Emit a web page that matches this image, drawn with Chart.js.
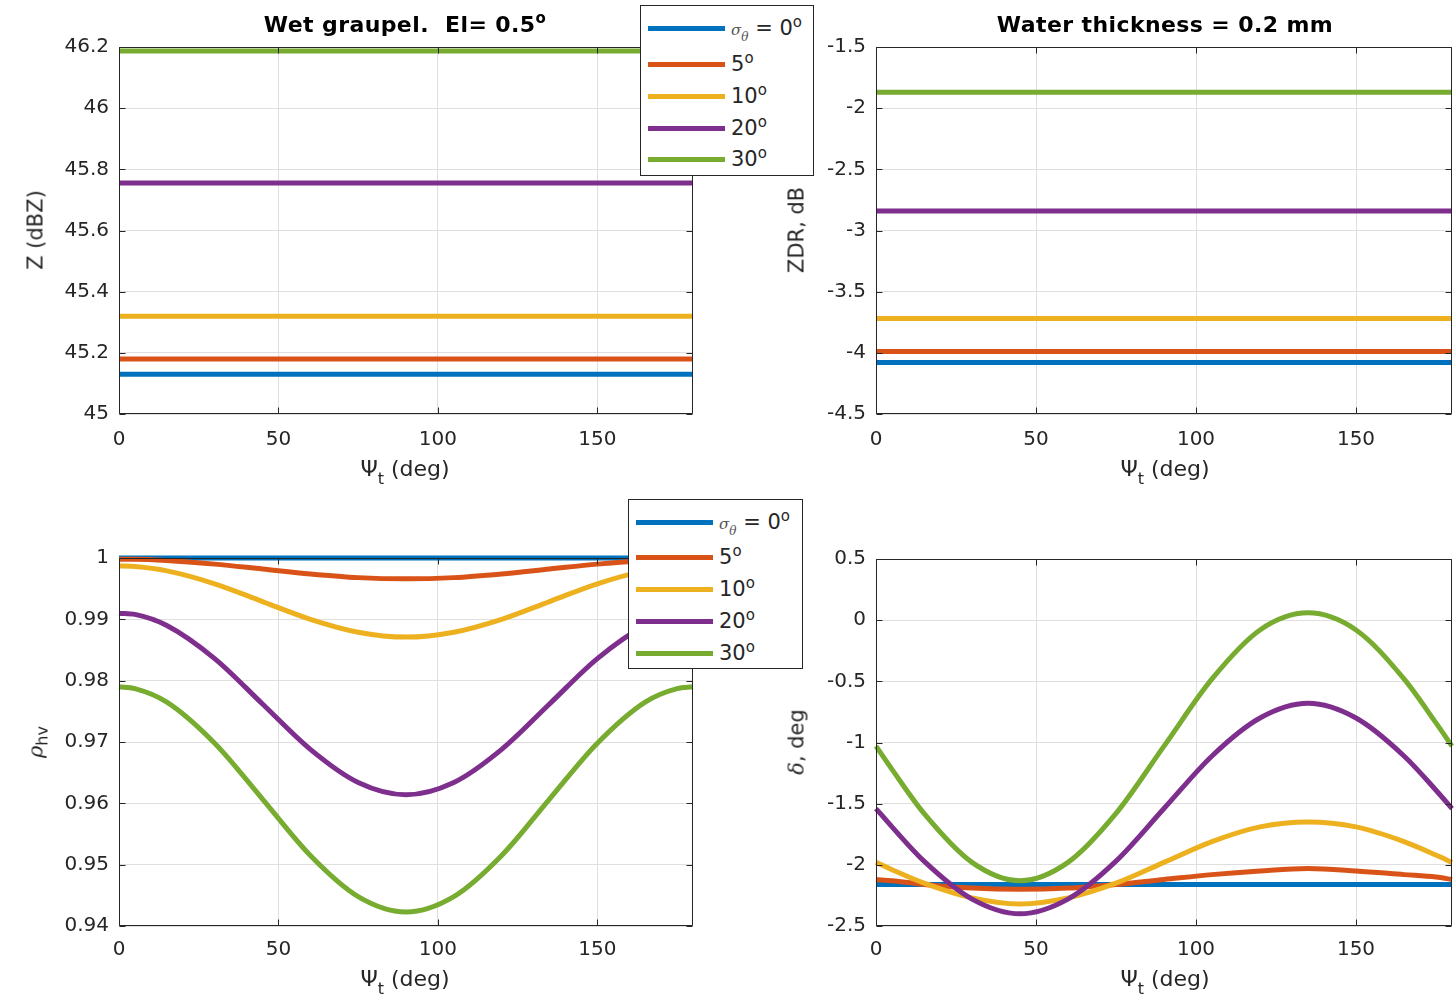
<!DOCTYPE html>
<html><head><meta charset="utf-8">
<script src="https://cdn.jsdelivr.net/npm/chart.js@4"></script>
<style>
body{margin:0;background:#fff;width:1454px;height:1000px;overflow:hidden;position:relative;font-family:'DejaVu Sans',sans-serif;color:#262626;}
canvas{position:absolute;}
.title{position:absolute;font-weight:bold;font-size:22px;color:#000;white-space:nowrap;transform:translateX(-50%);line-height:1;letter-spacing:0.4px;}
.title sup{font-size:15px;vertical-align:9px;line-height:0}
.xt{position:absolute;font-size:22px;white-space:nowrap;transform:translate(-50%,-50%);line-height:1;}
.xt sub{font-size:16px;vertical-align:-8px;line-height:0}
.yt{position:absolute;font-size:21px;white-space:nowrap;transform:translate(-50%,-50%) rotate(-90deg);line-height:1;}
.yt sub{font-size:16px;vertical-align:-5px;line-height:0}
.legend{position:absolute;background:#fff;border:1px solid #262626;box-sizing:border-box;}
.item{position:absolute;left:7px;height:0;}
.swatch{position:absolute;left:0;top:-2.5px;width:77px;height:5px;}
.lab{position:absolute;left:83px;top:0;font-size:21px;white-space:nowrap;transform:translateY(-50%);line-height:1;}
.lab sup{font-size:15px;vertical-align:8px;line-height:0}
.lab .sg{font-family:'DejaVu Serif',serif;font-style:italic;font-size:15px;color:#555;}
.lab sub{font-size:12px;vertical-align:-6px;line-height:0}
</style>
</head><body>
<script>
// ---------------- DATA ----------------
const psi = [0, 5, 15, 30, 45, 60, 75, 90, 105, 120, 135, 150, 165, 175, 180];
const psiFlat = [0, 180];
const xTicks = [0, 50, 100, 150];
const sigmaLabels = ['0', '5', '10', '20', '30'];

// Z (dBZ), constant in psi
const zS0 = [45.13, 45.13];
const zS5 = [45.18, 45.18];
const zS10 = [45.32, 45.32];
const zS20 = [45.755, 45.755];
const zS30 = [46.187, 46.187];
const zTicks = [45, 45.2, 45.4, 45.6, 45.8, 46, 46.2];

// ZDR (dB), constant in psi
const zdrS0 = [-4.08, -4.08];
const zdrS5 = [-3.99, -3.99];
const zdrS10 = [-3.72, -3.72];
const zdrS20 = [-2.84, -2.84];
const zdrS30 = [-1.87, -1.87];
const zdrTicks = [-4.5, -4, -3.5, -3, -2.5, -2, -1.5];

// rho_hv
const rhoS0 = [1, 1, 1, 1, 1, 1, 1, 1, 1, 1, 1, 1, 1, 1, 1];
const rhoS5 = [0.9998, 0.9998, 0.9996, 0.9990, 0.9982, 0.9974, 0.9968, 0.9966, 0.9968, 0.9974, 0.9982, 0.9990, 0.9996, 0.9998, 0.9998];
const rhoS10 = [0.9987, 0.9986, 0.9979, 0.9958, 0.9929, 0.9900, 0.9879, 0.9871, 0.9879, 0.9900, 0.9929, 0.9958, 0.9979, 0.9986, 0.9987];
const rhoS20 = [0.9910, 0.9908, 0.9890, 0.9836, 0.9762, 0.9688, 0.9634, 0.9614, 0.9634, 0.9688, 0.9762, 0.9836, 0.9890, 0.9908, 0.9910];
const rhoS30 = [0.9790, 0.9787, 0.9765, 0.9698, 0.9607, 0.9515, 0.9448, 0.9423, 0.9448, 0.9515, 0.9607, 0.9698, 0.9765, 0.9787, 0.9790];
const rhoTicks = [0.94, 0.95, 0.96, 0.97, 0.98, 0.99, 1];

// delta (deg)
const dS0 = [-2.16, -2.16, -2.16, -2.16, -2.16, -2.16, -2.16, -2.16, -2.16, -2.16, -2.16, -2.16, -2.16, -2.16, -2.16];
const dS5 = [-2.12, -2.13, -2.16, -2.19, -2.20, -2.19, -2.16, -2.12, -2.08, -2.05, -2.03, -2.05, -2.08, -2.10, -2.12];
const dS10 = [-1.98, -2.04, -2.15, -2.27, -2.32, -2.27, -2.15, -1.98, -1.81, -1.69, -1.65, -1.69, -1.81, -1.92, -1.98];
const dS20 = [-1.54, -1.69, -1.97, -2.28, -2.40, -2.28, -1.97, -1.54, -1.11, -0.80, -0.68, -0.80, -1.11, -1.39, -1.54];
const dS30 = [-1.03, -1.22, -1.58, -1.98, -2.13, -1.98, -1.58, -1.03, -0.48, -0.08, 0.06, -0.08, -0.48, -0.84, -1.03];
const dTicks = [-2.5, -2, -1.5, -1, -0.5, 0, 0.5];

// ---------------- STYLE ----------------
const colors = ['#0072BD', '#D95319', '#EDB120', '#7E2F8E', '#77AC30'];

const boxPlugin = {
  id: 'box',
  afterDraw(chart) {
    const {ctx, chartArea: a, scales} = chart;
    const L = Math.round(a.left) + 0.5, T = Math.round(a.top) + 0.5;
    const R = Math.round(a.right) - 0.5, B = Math.round(a.bottom) - 0.5;
    ctx.save();
    ctx.strokeStyle = '#262626';
    ctx.lineWidth = 1;
    ctx.beginPath();
    ctx.rect(L, T, R - L, B - T);
    scales.x.ticks.forEach(t => {
      const p = Math.round(scales.x.getPixelForValue(t.value)) + 0.5;
      ctx.moveTo(p, B); ctx.lineTo(p, B - 6);
      ctx.moveTo(p, T); ctx.lineTo(p, T + 6);
    });
    scales.y.ticks.forEach(t => {
      const p = Math.round(scales.y.getPixelForValue(t.value)) + 0.5;
      ctx.moveTo(L, p); ctx.lineTo(L + 6, p);
      ctx.moveTo(R, p); ctx.lineTo(R - 6, p);
    });
    ctx.stroke();
    ctx.restore();
  }
};

function panel(page, xs, series, yMin, yMax, yTicks) {
  const cv = document.createElement('canvas');
  cv.width = page.w; cv.height = page.h;
  cv.style.left = page.left + 'px'; cv.style.top = page.top + 'px';
  document.body.appendChild(cv);
  const yW = page.al - page.left;
  const xH = page.top + page.h - page.ab;
  new Chart(cv, {
    type: 'line',
    data: {
      datasets: series.map((ys, i) => ({
        data: ys.map((v, k) => ({x: xs[k], y: v})),
        borderColor: colors[i],
        backgroundColor: colors[i],
        borderWidth: 5,
        pointRadius: 0,
        cubicInterpolationMode: 'monotone',
        fill: false,
        clip: 6,
        order: series.length - i
      }))
    },
    options: {
      responsive: false,
      animation: false,
      events: [],
      layout: {padding: {left: 0, top: page.at - page.top, right: page.left + page.w - page.ar, bottom: 0}},
      plugins: {legend: {display: false}, tooltip: {enabled: false}, title: {display: false}},
      scales: {
        x: {
          type: 'linear', min: 0, max: 180,
          afterBuildTicks: s => { s.ticks = xTicks.map(v => ({value: v})); },
          afterFit: s => { s.height = xH; },
          grid: {color: '#dfdfdf', drawTicks: false, lineWidth: 1},
          border: {display: false},
          ticks: {padding: page.xpad, color: '#262626', font: {family: 'DejaVu Sans', size: 20}, maxRotation: 0,
                  callback: v => String(v)}
        },
        y: {
          type: 'linear', min: yMin, max: yMax,
          afterBuildTicks: s => { s.ticks = yTicks.map(v => ({value: v})); },
          afterFit: s => { s.width = yW; },
          grid: {color: '#dfdfdf', drawTicks: false, lineWidth: 1},
          border: {display: false},
          ticks: {padding: 10, color: '#262626', font: {family: 'DejaVu Sans', size: 20},
                  callback: v => String(+Number(v).toFixed(3))}
        }
      }
    },
    plugins: [boxPlugin]
  });
}

panel({left: 0, top: 0, w: 700, h: 500, al: 119, at: 47, ar: 693, ab: 414, xpad: 14},
      psiFlat, [zS0, zS5, zS10, zS20, zS30], 45, 46.2, zTicks);
panel({left: 757, top: 0, w: 697, h: 500, al: 876, at: 47, ar: 1452, ab: 414, xpad: 14},
      psiFlat, [zdrS0, zdrS5, zdrS10, zdrS20, zdrS30], -4.5, -1.5, zdrTicks);
panel({left: 0, top: 490, w: 700, h: 510, al: 119, at: 558, ar: 693, ab: 926, xpad: 12},
      psi, [rhoS0, rhoS5, rhoS10, rhoS20, rhoS30], 0.94, 1, rhoTicks);
panel({left: 757, top: 490, w: 697, h: 510, al: 876, at: 559, ar: 1452, ab: 926, xpad: 12},
      psi, [dS0, dS5, dS10, dS20, dS30], -2.5, 0.5, dTicks);

// ---------------- TEXT ----------------
function add(html) { document.body.insertAdjacentHTML('beforeend', html); }
add('<div class="title" style="left:405px;top:14px">Wet graupel.&nbsp; El= 0.5<sup>o</sup></div>');
add('<div class="title" style="left:1165px;top:14px">Water thickness = 0.2 mm</div>');
const xTitle = 'Ψ<sub>t</sub> (deg)';
add('<div class="xt" style="left:405px;top:469px">' + xTitle + '</div>');
add('<div class="xt" style="left:1165px;top:469px">' + xTitle + '</div>');
add('<div class="xt" style="left:405px;top:979px">' + xTitle + '</div>');
add('<div class="xt" style="left:1165px;top:979px">' + xTitle + '</div>');
add('<div class="yt" style="left:36px;top:230px">Z (dBZ)</div>');
add('<div class="yt" style="left:797px;top:230px">ZDR, dB</div>');
add('<div class="yt" style="left:36px;top:742px"><i style="font-family:\'DejaVu Serif\',serif">ρ</i><sub>hv</sub></div>');
add('<div class="yt" style="left:797px;top:742px"><i style="font-family:\'DejaVu Serif\',serif">δ</i>, deg</div>');

function legend(left, top, w, h, ys) {
  let html = '<div class="legend" style="left:' + left + 'px;top:' + top + 'px;width:' + w + 'px;height:' + h + 'px">';
  sigmaLabels.forEach((s, i) => {
    const txt = i === 0
      ? '<span class="sg">σ<sub>θ</sub></span> = ' + s + '<sup>o</sup>'
      : s + '<sup>o</sup>';
    html += '<div class="item" style="top:' + ys[i] + 'px"><div class="swatch" style="background:' + colors[i] + '"></div>' +
            '<div class="lab">' + txt + '</div></div>';
  });
  html += '</div>';
  add(html);
}
legend(640, 5, 174, 171, [22, 58, 90, 122, 153]);
legend(628, 499, 175, 170, [22, 57, 89, 121, 153]);
</script>
</body></html>
